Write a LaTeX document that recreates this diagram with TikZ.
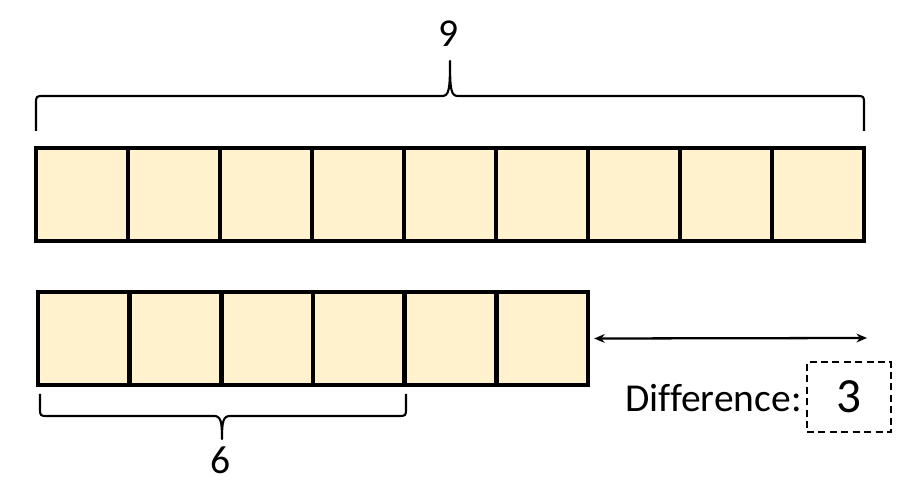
\documentclass[tikz,border=0pt]{standalone}
\usepackage{fontspec}
\setmainfont[Ligatures=NoCommon]{Carlito}
\usepackage{xcolor}
\usetikzlibrary{
  positioning,
  arrows.meta
}
\definecolor{barfill}{HTML}{FFF2CC}

\tikzset{
  topcell/.style={draw, line width=2.5pt, fill=barfill, inner sep=0pt,
    minimum width=1.84cm, minimum height=1.86cm},
  botcell/.style={topcell, minimum width=1.833cm},
  bracket/.style={line width=1.2pt, line join=round},
  numlbl/.style={inner sep=0pt, anchor=base, font=\fontsize{22.5}{26}\selectfont},
}

\begin{document}
\begin{tikzpicture}[x=0.02cm, y=-0.02cm]

	    \useasboundingbox (0,0) rectangle (916,496);

	    % bar of nine
	    \foreach \i in {1,...,9}
	        \node[topcell] (t\i) at ({36+92*(\i-0.5)},194.5) {};

	    % bar of six
	    \foreach \i in {1,...,6}
	        \node[botcell] (b\i) at ({38+91.67*(\i-0.5)},338.5) {};

	    % brace over the nine
	    \coordinate (toptip) at (450,61);
	    \draw[bracket]
	        (36,131) -- (36,104) .. controls (36,96) .. (44,96)
	        -- (442,96) .. controls (449,96) and (450,90) .. (toptip)
	        .. controls (450,90) and (451,96) .. (458,96)
	        -- (856,96) .. controls (864,96) .. (864,104) -- (864,131);
	    \node[numlbl] (nine) at (449,47) {9};

	    % brace under the six
	    \coordinate (bottip) at (222,439);
	    \draw[bracket]
	        (40,394) -- (40,408) .. controls (40,416) .. (48,416)
	        -- (214,416) .. controls (221,416) and (222,422) .. (bottip)
	        .. controls (222,422) and (223,416) .. (230,416)
	        -- (398,416) .. controls (406,416) .. (406,408) -- (406,394);
	    \node[numlbl] (six) at (221,473) {6};

	    % gap arrow
	    \coordinate[right=0.08cm of b6.east] (gapL);
	    \coordinate (gapR) at (867,338);
	    \draw[line width=1.3pt, {Stealth[length=6pt,width=5pt]}-{Stealth[length=6pt,width=5pt]}]
	        (gapL) -- (gapR);

	    % answer
	    \node[draw, dashed, line width=0.9pt, dash pattern=on 4pt off 2.5pt,
	        minimum width=1.68cm, minimum height=1.4cm, inner sep=0pt,
	        font=\fontsize{28}{32}\selectfont] (answer) at (849,397) {3};
	    \node[numlbl, anchor=base east] (difflbl) at (802,412) {Difference:};

	\end{tikzpicture}
\end{document}
